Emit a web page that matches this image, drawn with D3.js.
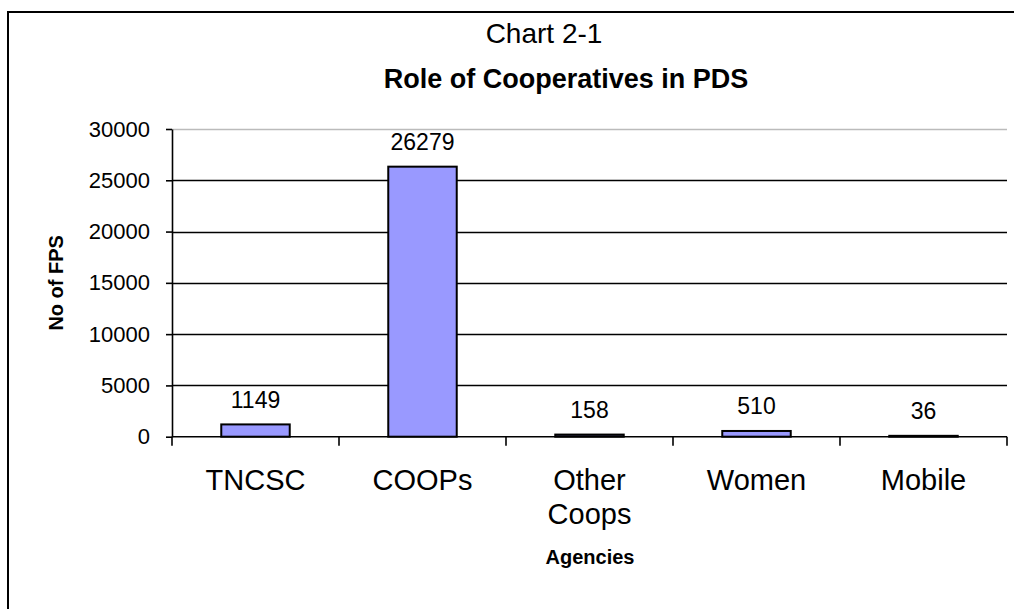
<!DOCTYPE html>
<html>
<head>
<meta charset="utf-8">
<script src="https://cdn.jsdelivr.net/npm/d3@7"></script>
<style>
  body { margin: 0; background: #fff; }
  svg { display: block; font-family: "Liberation Sans", Arial, sans-serif; }
</style>
</head>
<body>
<div id="chart"></div>
<script>
// Data
const agencies = ["TNCSC", "COOPs", "Other Coops", "Women", "Mobile"];
const shops = [1149, 26279, 158, 510, 36];
const yTicks = [0, 5000, 10000, 15000, 20000, 25000, 30000];

const width = 1014, height = 609;
const margin = { left: 172, right: 7, top: 129, bottom: 172 };

const svg = d3.select("#chart").append("svg")
    .attr("width", width)
    .attr("height", height);

// outer frame (left + top edges visible)
svg.append("path")
    .attr("d", `M8,${height} L8,12 L${width},12`)
    .attr("fill", "none")
    .attr("stroke", "#000")
    .attr("stroke-width", 2);

const x = d3.scaleBand()
    .domain(agencies)
    .range([margin.left, width - margin.right])
    .paddingInner(0.59)
    .paddingOuter(0.295);

const xOuter = d3.scaleBand()
    .domain(agencies)
    .range([margin.left, width - margin.right]);

const y = d3.scaleLinear()
    .domain([0, 30000])
    .range([height - margin.bottom - 0.3, margin.top]);

// gridlines
svg.append("g").selectAll("line")
    .data(yTicks.filter(d => d > 0))
    .join("line")
    .attr("x1", margin.left)
    .attr("x2", width - margin.right)
    .attr("y1", d => Math.round(y(d)) + 0.5)
    .attr("y2", d => Math.round(y(d)) + 0.5)
    .attr("stroke", d => d === 30000 ? "#bbb" : "#000")
    .attr("stroke-width", d => d === 30000 ? 1.5 : 1.6);

// y axis
const yAxis = svg.append("g")
    .attr("transform", `translate(${margin.left},0)`)
    .call(d3.axisLeft(y).tickValues(yTicks).tickFormat(d3.format("d"))
        .tickSize(6).tickPadding(16).tickSizeOuter(0));
yAxis.select(".domain").attr("stroke", "#000").attr("stroke-width", 1.6);
yAxis.selectAll(".tick line").attr("stroke", "#000").attr("stroke-width", 1.6);
yAxis.selectAll(".tick text")
    .attr("font-size", 22)
    .attr("fill", "#000")
    .attr("font-family", "Liberation Sans, Arial, sans-serif");

// bars
svg.append("g").selectAll("rect")
    .data(agencies)
    .join("rect")
    .attr("x", d => x(d))
    .attr("width", x.bandwidth())
    .attr("y", (d, i) => y(shops[i]) - 0.5)
    .attr("height", (d, i) => y(0) - y(shops[i]) + 0.5)
    .attr("fill", "#9999ff")
    .attr("stroke", "#000")
    .attr("stroke-width", 2);

// x axis
const x0 = y(0);
const xAxisG = svg.append("g");
xAxisG.append("line")
    .attr("x1", margin.left).attr("x2", width - margin.right)
    .attr("y1", x0).attr("y2", x0)
    .attr("stroke", "#000").attr("stroke-width", 1.6);
const xTickPos = agencies.map(d => xOuter(d)).concat([width - margin.right]);
xAxisG.selectAll(".xt")
    .data(xTickPos)
    .join("line")
    .attr("x1", d => d).attr("x2", d => d)
    .attr("y1", x0).attr("y2", x0 + 9)
    .attr("stroke", "#000").attr("stroke-width", 1.6);

// category labels
svg.append("g").selectAll("text")
    .data(agencies)
    .join("text")
    .attr("text-anchor", "middle")
    .attr("font-size", 29)
    .attr("transform", d => `translate(${xOuter(d) + xOuter.bandwidth() / 2},490)`)
    .each(function(d) {
        const words = d.split(" ");
        d3.select(this).selectAll("tspan")
            .data(words)
            .join("tspan")
            .attr("x", 0)
            .attr("dy", (w, i) => i === 0 ? 0 : 34)
            .text(w => w);
    });

// value labels
svg.append("g").selectAll("text")
    .data(agencies)
    .join("text")
    .attr("x", d => x(d) + x.bandwidth() / 2)
    .attr("y", (d, i) => y(shops[i]) - 17)
    .attr("text-anchor", "middle")
    .attr("font-size", 23)
    .text((d, i) => shops[i]);

// titles
svg.append("text")
    .attr("x", 544).attr("y", 43)
    .attr("text-anchor", "middle")
    .attr("font-size", 28)
    .text("Chart 2-1");

svg.append("text")
    .attr("x", 566).attr("y", 88)
    .attr("text-anchor", "middle")
    .attr("font-size", 27)
    .attr("font-weight", "bold")
    .text("Role of Cooperatives in PDS");

svg.append("text")
    .attr("x", 590).attr("y", 564)
    .attr("text-anchor", "middle")
    .attr("font-size", 20)
    .attr("font-weight", "bold")
    .text("Agencies");

svg.append("text")
    .attr("transform", `translate(63,${(margin.top + x0) / 2}) rotate(-90)`)
    .attr("text-anchor", "middle")
    .attr("font-size", 20)
    .attr("font-weight", "bold")
    .text("No of FPS");
</script>
</body>
</html>
